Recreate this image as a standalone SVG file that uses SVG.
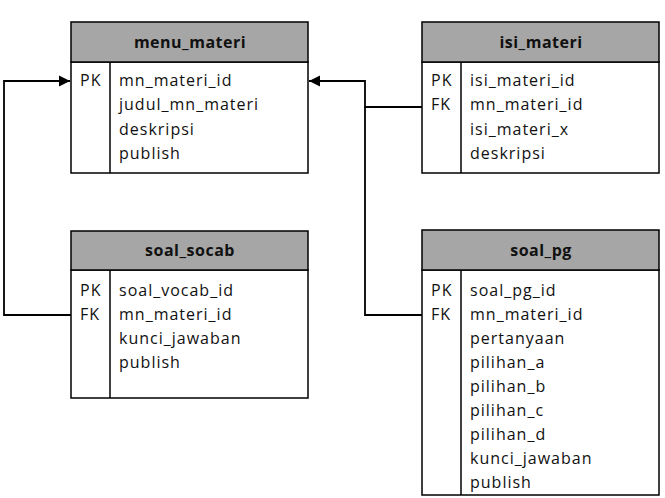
<svg xmlns="http://www.w3.org/2000/svg" width="665" height="498" viewBox="0 0 665 498">
<style>
.hdr{fill:#a6a6a6;stroke:#000;stroke-width:1.5}
.body{fill:#fff;stroke:#000;stroke-width:1.5}
.div{stroke:#000;stroke-width:1.5}
.t{font-family:"Open Sans","Noto Sans",sans-serif;font-size:16px;letter-spacing:1px;fill:#111}
.h{font-family:"Open Sans","Noto Sans",sans-serif;font-size:16px;letter-spacing:0.5px;font-weight:bold;fill:#111;text-anchor:middle}
.c{fill:none;stroke:#000;stroke-width:1.8}
</style>
<defs>
<marker id="arr" markerWidth="12" markerHeight="12" refX="11" refY="6" orient="auto" markerUnits="userSpaceOnUse">
<path d="M0,0.5 L11,6 L0,11.5 Z" fill="#000"/>
</marker>
</defs>
<g id="connectors">
<path class="c" d="M71,315 H4 V81 H70" marker-end="url(#arr)"/>
<path class="c" d="M422,107 H365 V81 H309" marker-end="url(#arr)"/>
<path class="c" d="M422,315 H365 V107"/>
</g>
<g id="menu_materi">
<rect class="body" x="71" y="62" width="237" height="111"/>
<rect class="hdr" x="71" y="22" width="237" height="40"/>
<line class="div" x1="110" y1="62" x2="110" y2="173"/>
<text class="h" x="190" y="48">menu_materi</text>
<text class="t" x="80" y="86">PK</text>
<text class="t" x="119" y="86">mn_materi_id</text>
<text class="t" x="119" y="110">judul_mn_materi</text>
<text class="t" x="119" y="135">deskripsi</text>
<text class="t" x="119" y="159">publish</text>
</g>
<g id="isi_materi">
<rect class="body" x="422" y="62" width="237" height="111"/>
<rect class="hdr" x="422" y="22" width="237" height="40"/>
<line class="div" x1="461" y1="62" x2="461" y2="173"/>
<text class="h" x="541" y="48">isi_materi</text>
<text class="t" x="431" y="86">PK</text>
<text class="t" x="431" y="110">FK</text>
<text class="t" x="470" y="86">isi_materi_id</text>
<text class="t" x="470" y="110">mn_materi_id</text>
<text class="t" x="470" y="135">isi_materi_x</text>
<text class="t" x="470" y="159">deskripsi</text>
</g>
<g id="soal_socab">
<rect class="body" x="71" y="270" width="237" height="128"/>
<rect class="hdr" x="71" y="231" width="237" height="39"/>
<line class="div" x1="110" y1="270" x2="110" y2="398"/>
<text class="h" x="190" y="256">soal_socab</text>
<text class="t" x="80" y="296">PK</text>
<text class="t" x="80" y="320">FK</text>
<text class="t" x="119" y="296">soal_vocab_id</text>
<text class="t" x="119" y="320">mn_materi_id</text>
<text class="t" x="119" y="344">kunci_jawaban</text>
<text class="t" x="119" y="368">publish</text>
</g>
<g id="soal_pg">
<rect class="body" x="422" y="270" width="237" height="225"/>
<rect class="hdr" x="422" y="230" width="237" height="40"/>
<line class="div" x1="461" y1="270" x2="461" y2="495"/>
<text class="h" x="541" y="256">soal_pg</text>
<text class="t" x="431" y="296">PK</text>
<text class="t" x="431" y="320">FK</text>
<text class="t" x="470" y="296">soal_pg_id</text>
<text class="t" x="470" y="320">mn_materi_id</text>
<text class="t" x="470" y="344">pertanyaan</text>
<text class="t" x="470" y="368">pilihan_a</text>
<text class="t" x="470" y="392">pilihan_b</text>
<text class="t" x="470" y="416">pilihan_c</text>
<text class="t" x="470" y="440">pilihan_d</text>
<text class="t" x="470" y="464">kunci_jawaban</text>
<text class="t" x="470" y="488">publish</text>
</g>
</svg>
